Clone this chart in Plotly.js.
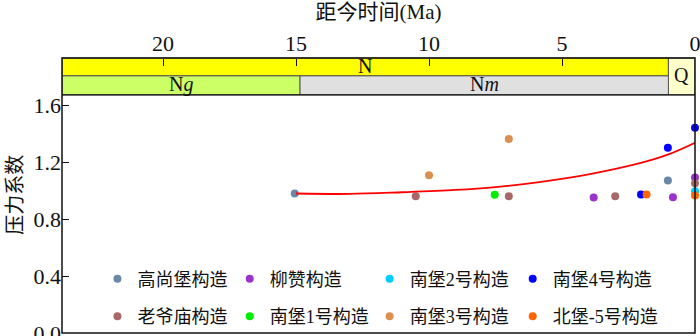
<!DOCTYPE html>
<html>
<head>
<meta charset="utf-8">
<script src="https://cdn.plot.ly/plotly-3.0.1.min.js"></script>
<style>
  body { margin: 0; background: #fff; }
  #chart { width: 700px; height: 336px; }
</style>
</head>
<body>
<div id="chart"></div>
<script>
// Dati: età (Ma) e coefficiente di pressione
const seriesNames = ['高尚堡构造', '柳赞构造', '南堡2号构造', '南堡4号构造',
                     '老爷庙构造', '南堡1号构造', '南堡3号构造', '北堡-5号构造'];
const seriesAge = [
    [15.05, 1.02],
    [3.81, 0.83, 0],
    [0],
    [2.03, 1.02, 0],
    [10.5, 7.0, 3.0, 0],
    [7.53],
    [10.0, 7.0],
    [1.82, 0]
];
const seriesValue = [
    [0.981, 1.072],
    [0.953, 0.955, 1.093],
    [0.997],
    [0.974, 1.303, 1.443],
    [0.962, 0.962, 0.962, 1.053],
    [0.972],
    [1.11, 1.364],
    [0.974, 0.967]
];

// Curva di tendenza (rossa)
const trendAge = [15, 13, 11, 9, 7.5, 6, 4, 2, 1, 0];
const trendValue = [0.981, 0.978, 0.990, 1.006, 1.026, 1.058, 1.116, 1.198, 1.256, 1.338];

// Strati: N, Q, Ng, Nm
const strataLabels = ['N', 'Q', 'N<i>g</i>', 'N<i>m</i>'];
const strataStart = [23.8, 1.0, 23.8, 14.85];
const strataEnd = [1.0, 0, 14.85, 1.0];

const yTicks = [0, 0.4, 0.8, 1.2, 1.6];
const xTicks = [20, 15, 10, 5, 0];

// Stili
const colors = ['#6a87a8', '#9933cc', '#00ccff', '#0000ff',
                '#a86868', '#00ee00', '#d9904f', '#ff6600'];
const strataFill = ['#ffff00', '#ffffcc', '#ccff66', '#e0e0e0'];
// [y0, y1] in coordinate paper, e posizione y dell'etichetta
const strataRows = [[0.935, 1], [0.866, 1], [0.866, 0.935], [0.866, 0.935]];
const strataLabelY = [0.970, 0.938, 0.905, 0.905];
// una legenda per colonna (4 colonne, 2 righe)
const legendIds = ['legend', 'legend2', 'legend3', 'legend4'];
const legendX = [0.056, 0.265, 0.486, 0.712];

const serif = 'Liberation Serif, "Noto Sans CJK SC", serif';
const cjk = '"Noto Sans CJK SC", sans-serif';

const traces = [];
seriesNames.forEach((name, i) => {
    traces.push({
        x: seriesAge[i],
        y: seriesValue[i],
        name: name,
        legendgroup: name,
        type: 'scatter',
        mode: 'markers',
        marker: { color: colors[i], size: 8 },
        cliponaxis: false,
        legend: legendIds[i % 4]
    });
});
traces.push({
    x: trendAge,
    y: trendValue,
    type: 'scatter',
    mode: 'lines',
    line: { color: '#ff0000', width: 1.8, shape: 'spline' },
    showlegend: false,
    hoverinfo: 'skip'
});

const shapes = [];
const annotations = [];
strataLabels.forEach((lab, i) => {
    shapes.push({
        type: 'rect', layer: 'below',
        xref: 'x', yref: 'paper',
        x0: strataStart[i], x1: strataEnd[i],
        y0: strataRows[i][0], y1: strataRows[i][1],
        fillcolor: strataFill[i],
        line: { color: '#555', width: 1 }
    });
    annotations.push({
        xref: 'x', yref: 'paper',
        x: (strataStart[i] + strataEnd[i]) / 2,
        y: strataLabelY[i],
        text: lab, showarrow: false,
        xanchor: 'center', yanchor: 'middle',
        font: { family: serif, size: 20, color: '#111' }
    });
});
// cornice
shapes.push({
    type: 'rect', xref: 'paper', yref: 'paper',
    x0: 0, x1: 1, y0: 0, y1: 1,
    line: { color: '#111', width: 1.5 }
});
shapes.push({
    type: 'line', xref: 'paper', yref: 'paper',
    x0: 0, x1: 1, y0: 0.866, y1: 0.866,
    line: { color: '#111', width: 1.2 }
});

// titolo asse y
annotations.push({
    xref: 'paper', yref: 'paper',
    x: -0.077, y: 0.504,
    text: '压力系数', textangle: -90, showarrow: false,
    xanchor: 'center', yanchor: 'middle',
    font: { family: cjk, size: 20, color: '#111' }
});

const layout = {
    width: 700,
    height: 336,
    margin: { l: 62, r: 5, t: 58, b: 2 },
    paper_bgcolor: '#fff',
    plot_bgcolor: '#fff',
    showlegend: true,
    xaxis: {
        range: [23.8, 0],
        side: 'top',
        anchor: 'free',
        position: 1,
        tickvals: xTicks,
        ticks: 'inside',
        ticklen: 7,
        tickcolor: '#111',
        ticklabelstandoff: 3,
        ticklabeloverflow: 'allow',
        showgrid: false,
        zeroline: false,
        showline: false,
        tickfont: { family: serif, size: 22, color: '#111' },
        title: {
            text: '距今时间(Ma)',
            font: { family: serif, size: 21, color: '#111' },
            standoff: 4
        }
    },
    yaxis: {
        domain: [0, 0.866],
        range: [0, 1.675],
        tickvals: yTicks,
        tickformat: '.1f',
        ticks: 'inside',
        ticklen: 7,
        tickcolor: '#111',
        ticklabeloverflow: 'allow',
        showgrid: false,
        zeroline: false,
        showline: false,
        tickfont: { family: serif, size: 22, color: '#111' }
    },
    shapes: shapes,
    annotations: annotations
};

legendIds.forEach((id, k) => {
    layout[id] = {
        orientation: 'v',
        xanchor: 'left', yanchor: 'middle',
        x: legendX[k], y: 0.132,
        tracegroupgap: 11,
        bgcolor: 'rgba(0,0,0,0)',
        font: { family: serif, size: 18, color: '#111' }
    };
});

Plotly.newPlot('chart', traces, layout, { displayModeBar: false, staticPlot: true });
</script>
</body>
</html>
